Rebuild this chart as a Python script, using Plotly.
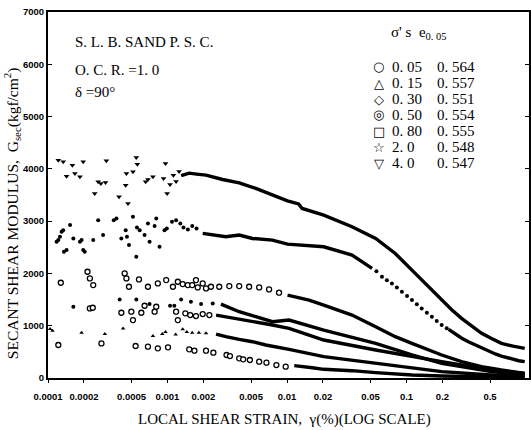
import plotly.graph_objects as go

# ---------------- data (strain %, G_sec kgf/cm2) ----------------
# sigma'c = 4.0  (inverted triangles)
s40_x = [0.000122, 0.000134, 0.000143, 0.000160, 0.000168, 0.000185, 0.000197, 0.000246, 0.000263,
         0.000277, 0.000303, 0.000308, 0.000393, 0.000453, 0.000447, 0.000467, 0.000514, 0.000548,
         0.000559, 0.000656, 0.000686, 0.000755, 0.000962, 0.000927, 0.000993, 0.00105, 0.00112,
         0.00118, 0.00125]
s40_y = [4166, 4134, 3860, 4070, 3911, 3848, 4134, 3529, 3752,
         3720, 3739, 4153, 3465, 3911, 3688, 3338, 3943, 4217,
         4090, 3752, 3797, 3848, 4102, 3816, 3529, 3700, 3880, 3760, 3950]
s40_lx = [0.00130, 0.00152, 0.00175, 0.0021, 0.00289, 0.00398, 0.00548, 0.00755,
          0.0101, 0.0125, 0.0134, 0.0203, 0.035, 0.0552, 0.0805, 0.111, 0.152, 0.197, 0.240,
          0.289, 0.350, 0.425, 0.520, 0.623, 0.780, 0.975]
s40_ly = [3870, 3918, 3900, 3880, 3797, 3733, 3625, 3497,
          3389, 3330, 3242, 3115, 2892, 2669, 2382, 2064, 1745, 1491, 1300,
          1140, 990, 854, 750, 662, 610, 567]

# sigma'c = 2.0  (stars)
s20_x = [0.000118, 0.000122, 0.000126, 0.000130, 0.000134, 0.000136, 0.000143, 0.000153, 0.000163,
         0.000185, 0.000191, 0.000197, 0.000203, 0.000239, 0.000263, 0.000289, 0.000355, 0.000374,
         0.000411, 0.000447, 0.000458, 0.000476, 0.000514, 0.000548, 0.000555, 0.000585, 0.000643,
         0.000686, 0.000708, 0.000780, 0.000805, 0.000858, 0.000944, 0.000987, 0.00109, 0.00118,
         0.00128, 0.00136, 0.00148, 0.00161, 0.00175]
s20_y = [2605, 2637, 2701, 2797, 2828, 2414, 2446, 2924, 2669,
         2605, 2637, 2446, 2414, 2637, 3019, 2733, 3019, 3051,
         2669, 2828, 2701, 2542, 3083, 2319, 2879, 2828, 2733,
         2956, 2605, 2905, 3051, 2510, 2828, 2860, 2988, 3019,
         2956, 2879, 2841, 2905, 2860]
s20_lx = [0.00197, 0.00239, 0.00308, 0.00398, 0.00514, 0.00755, 0.0101, 0.0203, 0.035, 0.0515]
s20_ly = [2765, 2733, 2701, 2733, 2669, 2637, 2561, 2510, 2351, 2096]
s20_dx = [0.0560, 0.0623, 0.0685, 0.0755, 0.083, 0.0915, 0.101, 0.111, 0.122, 0.134, 0.148, 0.163,
          0.179, 0.197, 0.217]
s20_dy = [2040, 1936, 1870, 1809, 1730, 1650, 1570, 1491, 1410, 1331, 1250, 1172,
          1090, 1013, 950]
s20_tx = [0.225, 0.239, 0.263, 0.290, 0.329, 0.37, 0.41, 0.453, 0.50, 0.56, 0.623, 0.70, 0.78, 0.87, 0.975]
s20_ty = [930, 885, 820, 760, 694, 640, 590, 535, 490, 455, 420, 385, 355, 330, 312]

# sigma'c = 0.80 (squares)
s08_x = [0.000128, 0.000214, 0.000224, 0.000239, 0.000438, 0.000453, 0.000476, 0.000577, 0.000686,
         0.000830, 0.000975, 0.00111, 0.00122, 0.00134, 0.00148, 0.00161, 0.00173, 0.00179, 0.00197,
         0.0021, 0.00231, 0.00271, 0.00329, 0.00398, 0.00482, 0.00585, 0.00708, 0.00858]
s08_y = [1822, 2032, 1905, 1777, 2000, 1905, 1745, 1886, 1745,
         1809, 1873, 1745, 1841, 1796, 1777, 1777, 1873, 1733, 1809,
         1714, 1745, 1745, 1758, 1758, 1745, 1733, 1694, 1631]
s08_lx = [0.0101, 0.0153, 0.0203, 0.035, 0.0552, 0.0805, 0.111, 0.152, 0.197, 0.289, 0.425, 0.623, 0.975]
s08_ly = [1586, 1491, 1395, 1204, 981, 790, 662, 535, 440, 312, 217, 153, 89]

# sigma'c = 0.50 (double circles)
s05_x = [0.000224, 0.000237, 0.000411, 0.000498, 0.000514, 0.000604, 0.000643, 0.000780, 0.000805,
         0.00118, 0.00122, 0.00141, 0.00155, 0.00173, 0.00197, 0.00224]
s05_y = [1331, 1344, 1248, 1268, 1108, 1248, 1382, 1268, 1363,
         1268, 1108, 1236, 1204, 1185, 1223, 1204]
s05_lx = [0.00255, 0.00308, 0.00398, 0.00548, 0.00755, 0.0104, 0.0203, 0.0552, 0.111, 0.197, 0.514, 0.975]
s05_ly = [1204, 1172, 1128, 1077, 1013, 949, 726, 535, 408, 312, 153, 89]

# sigma'c = 0.30 (diamonds)
s03_x = [0.000163, 0.000398, 0.000548, 0.000708, 0.00105, 0.00114, 0.00130, 0.00157, 0.00191, 0.00239]
s03_y = [1363, 1503, 1503, 1414, 1382, 1382, 1503, 1459, 1414, 1427]
s03_lx = [0.0028, 0.00398, 0.00548, 0.00755, 0.0104, 0.0203, 0.0552, 0.111, 0.197, 0.514, 0.975]
s03_ly = [1414, 1268, 1172, 1077, 1108, 917, 662, 440, 280, 121, 57]

# sigma'c = 0.15 (triangles)
s015_x = [0.000104, 0.000109, 0.000191, 0.000299, 0.000425, 0.000755, 0.000904, 0.000962, 0.00117,
          0.00134, 0.00145, 0.00161, 0.00183, 0.0021]
s015_y = [936, 905, 866, 841, 949, 803, 841, 879, 834,
          930, 879, 866, 866, 854]
s015_lx = [0.00255, 0.00308, 0.00398, 0.00514, 0.00664, 0.00858, 0.0104, 0.0203, 0.0552, 0.111, 0.197, 0.514, 0.975]
s015_ly = [841, 790, 739, 694, 631, 586, 548, 408, 280, 185, 121, 57, 25]

# sigma'c = 0.05 (circles)
s005_x = [0.000122, 0.000280, 0.000541, 0.000686, 0.000830, 0.00101, 0.00152, 0.00168, 0.0021,
          0.00242, 0.00312, 0.00333, 0.00398, 0.0043, 0.00489, 0.00585, 0.00673, 0.00815, 0.00975]
s005_y = [631, 662, 612, 599, 567, 586, 548, 522, 522,
          484, 440, 420, 376, 357, 344, 312, 293, 248, 217]
s005_lx = [0.0115, 0.0149, 0.0163, 0.0203, 0.035, 0.0552, 0.111, 0.197, 0.514, 0.975]
s005_ly = [236, 217, 197, 166, 140, 102, 57, 38, 13, 5]

x_tickvals = [0.0001, 0.0002, 0.0005, 0.001, 0.002, 0.005, 0.01, 0.02, 0.05, 0.1, 0.2, 0.5]
x_ticktext = ["0.0001", "0.0002", "0.0005", "0.001", "0.002", "0.005", "0.01", "0.02", "0.05", "0.1", "0.2", "0.5"]
y_tickvals = [0, 1000, 2000, 3000, 4000, 5000, 6000, 7000]

legend_sym = ["○", "△", "◇", "◎", "□", "☆", "▽"]
legend_sig = ["0. 05", "0. 15", "0. 30", "0. 50", "0. 80", "2. 0", "4. 0"]
legend_e = ["0. 564", "0. 557", "0. 551", "0. 554", "0. 555", "0. 548", "0. 547"]

# ---------------- figure ----------------
fig = go.Figure()
BLK = "black"

def add_series(x, y, lx, ly, symbol, size, open_=False):
    mk = dict(symbol=symbol, size=size, color=BLK)
    if open_:
        mk = dict(symbol=symbol, size=size, color="white", line=dict(color=BLK, width=1.3))
    fig.add_trace(go.Scatter(x=x, y=y, mode="markers", marker=mk, showlegend=False))
    fig.add_trace(go.Scatter(x=lx, y=ly, mode="lines", line=dict(color=BLK, width=3.4),
                             showlegend=False))

add_series(s40_x, s40_y, s40_lx, s40_ly, "triangle-down", 5)
add_series(s20_x, s20_y, s20_lx, s20_ly, "circle", 4)
fig.add_trace(go.Scatter(x=s20_dx, y=s20_dy, mode="markers", marker=dict(symbol="circle", size=4, color=BLK),
                         showlegend=False))
fig.add_trace(go.Scatter(x=s20_tx, y=s20_ty, mode="lines", line=dict(color=BLK, width=3.4), showlegend=False))
add_series(s08_x, s08_y, s08_lx, s08_ly, "circle", 5, open_=True)
add_series(s05_x, s05_y, s05_lx, s05_ly, "circle", 5, open_=True)
add_series(s03_x, s03_y, s03_lx, s03_ly, "circle", 4)
add_series(s015_x, s015_y, s015_lx, s015_ly, "triangle-up", 4)
add_series(s005_x, s005_y, s005_lx, s005_ly, "circle", 5, open_=True)

L, R, T, B = 48, 0, 12, 52
W, H = 531, 430
PW, PH = W - L - R, H - T - B

def px(xp):
    return (xp - L) / PW

def py(yp):
    return (H - B - yp) / PH

TXT = "Liberation Serif"
ann = []
for i, t in enumerate(["S. L. B. SAND P. S. C.", "O. C. R. =1. 0", "δ =90°"]):
    ann.append(dict(x=px(73), y=py([42, 70, 92][i]), xref="paper", yref="paper", text=t,
                    showarrow=False, xanchor="left", yanchor="middle", font=dict(family=TXT, size=15, color=BLK)))
ann.append(dict(x=px(390), y=py(33), xref="paper", yref="paper", text="σ' s  e<sub>0. 05</sub>",
                showarrow=False, xanchor="left", yanchor="middle", font=dict(family=TXT, size=15, color=BLK)))
for i in range(7):
    yy = 67 + i * 16
    ann.append(dict(x=px(380), y=py(yy), xref="paper", yref="paper", text=legend_sym[i], showarrow=False,
                    xanchor="center", yanchor="middle", font=dict(family="DejaVu Sans", size=13, color=BLK)))
    ann.append(dict(x=px(391), y=py(yy), xref="paper", yref="paper", text=legend_sig[i], showarrow=False,
                    xanchor="left", yanchor="middle", font=dict(family=TXT, size=15, color=BLK)))
    ann.append(dict(x=px(437), y=py(yy), xref="paper", yref="paper", text=legend_e[i], showarrow=False,
                    xanchor="left", yanchor="middle", font=dict(family=TXT, size=15, color=BLK)))
ann.append(dict(x=px(12), y=py(213), xref="paper", yref="paper", textangle=-90,
                text="SECANT SHEAR MODULUS,  G<sub>sec</sub>(kgf/cm<sup>2</sup>)", showarrow=False,
                xanchor="center", yanchor="middle", font=dict(family=TXT, size=15.5, color=BLK)))
ann.append(dict(x=px(285), y=py(420), xref="paper", yref="paper",
                text="LOCAL SHEAR STRAIN,  γ(%)(LOG SCALE)", showarrow=False,
                xanchor="center", yanchor="middle", font=dict(family=TXT, size=15, color=BLK)))

TICKF = dict(family="Liberation Sans", size=9.5, color=BLK, weight="bold")
fig.update_layout(
    width=W, height=H, margin=dict(l=L, r=R, t=T, b=B, pad=0),
    paper_bgcolor="white", plot_bgcolor="white", showlegend=False,
    annotations=ann,
    xaxis=dict(type="log", range=[-4, -4 + PW / 120], tickvals=x_tickvals, ticktext=x_ticktext,
               tickangle=0, showgrid=False, zeroline=False, showline=True, linecolor=BLK, linewidth=2,
               mirror=True, ticks="outside", ticklen=3, tickcolor=BLK, tickfont=TICKF,
               ticklabelstandoff=6),
    yaxis=dict(range=[0, 7000], tickvals=y_tickvals, showgrid=False, zeroline=False, showline=True,
               linecolor=BLK, linewidth=2, mirror="allticks", ticks="inside", ticklen=4, tickcolor=BLK,
               tickfont=TICKF),
)

fig.write_html("out.html")
